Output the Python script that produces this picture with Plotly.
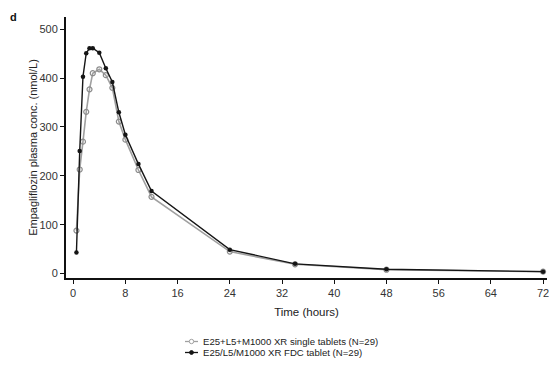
import plotly.graph_objects as go

time_h = [0.5, 1, 1.5, 2, 2.5, 3, 4, 5, 6, 7, 8, 10, 12, 24, 34, 48, 72]
single_tablets = [88, 213, 270, 331, 377, 410, 418, 406, 380, 311, 274, 212, 157, 45, 19, 8, 4]
fdc_tablet = [43, 251, 403, 451, 461, 461, 452, 420, 392, 330, 284, 224, 169, 49, 20, 9, 4]
x_ticks = [0, 8, 16, 24, 32, 40, 48, 56, 64, 72]
y_ticks = [0, 100, 200, 300, 400, 500]

name_single = "E25+L5+M1000 XR single tablets (N=29)"
name_fdc = "E25/L5/M1000 XR FDC tablet (N=29)"

W, H = 549, 369
ML, MR, MT, MB = 66, 2, 17, 91
PW, PH = W - ML - MR, H - MT - MB


def px(x):
    return (x - ML) / PW


def py(y):
    return (H - MB - y) / PH


gray_line = "#a0a0a0"
gray_mark = "#8c8c8c"
black = "#151515"

fig = go.Figure()
fig.add_trace(go.Scatter(
    x=time_h, y=single_tablets, mode="lines+markers", name=name_single,
    line=dict(color=gray_line, width=1.6),
    marker=dict(symbol="circle-open", size=5, color=gray_mark, line=dict(width=1.2)),
    showlegend=False, cliponaxis=False,
))
fig.add_trace(go.Scatter(
    x=time_h, y=fdc_tablet, mode="lines+markers", name=name_fdc,
    line=dict(color=black, width=1.4),
    marker=dict(symbol="circle", size=4.5, color=black),
    showlegend=False, cliponaxis=False,
))

# manual compact legend (decoration only)
legend_rows = [(name_single, 341.5, gray_line, "open"), (name_fdc, 352.5, black, "filled")]
shapes = []
annotations = []
for label, yy, col, kind in legend_rows:
    shapes.append(dict(type="line", xref="paper", yref="paper",
                       x0=px(185), x1=px(198), y0=py(yy), y1=py(yy),
                       line=dict(color=col, width=1.3)))
    r = 2.2 if kind == "open" else 1.9
    shapes.append(dict(type="circle", xref="paper", yref="paper",
                       x0=px(191.5 - r), x1=px(191.5 + r), y0=py(yy + r), y1=py(yy - r),
                       line=dict(color=col, width=1),
                       fillcolor="white" if kind == "open" else col))
    annotations.append(dict(text=label, xref="paper", yref="paper", x=px(201), y=py(yy),
                            xanchor="left", yanchor="middle", showarrow=False,
                            font=dict(size=9.6, color="#222")))

annotations.append(dict(text="<b>d</b>", xref="paper", yref="paper", x=px(13), y=py(17),
                        xanchor="center", yanchor="middle", showarrow=False,
                        font=dict(size=11, color="#111")))

fig.update_layout(
    width=W, height=H,
    margin=dict(l=ML, r=MR, t=MT, b=MB, autoexpand=False),
    paper_bgcolor="white", plot_bgcolor="white",
    font=dict(family="Arial, Liberation Sans, sans-serif", color="#222", size=11),
    showlegend=False,
    shapes=shapes,
    annotations=annotations,
)

fig.update_xaxes(
    range=[-1.1, 72.6], tickvals=x_ticks, ticks="outside", ticklen=4, tickwidth=1.2,
    tickcolor="#111", showline=True, linecolor="#111", linewidth=2, showgrid=False,
    zeroline=False, tickfont=dict(size=11, color="#333"), automargin=False,
    ticklabeloverflow="allow",
    title=dict(text="Time (hours)", font=dict(size=11.5, color="#222"), standoff=10),
)
fig.update_yaxes(
    range=[-9, 525], tickvals=y_ticks, ticks="outside", ticklen=4, tickwidth=1.2,
    tickcolor="#111", showline=True, linecolor="#111", linewidth=2, showgrid=False,
    zeroline=False, tickfont=dict(size=11, color="#333"), automargin=False,
    title=dict(text="Empagliflozin plasma conc. (nmol/L)", font=dict(size=11, color="#222"), standoff=0),
)

fig.write_html("out.html", config={"displayModeBar": False},
               post_script="document.body.style.margin='0';document.body.style.overflow='hidden';")
